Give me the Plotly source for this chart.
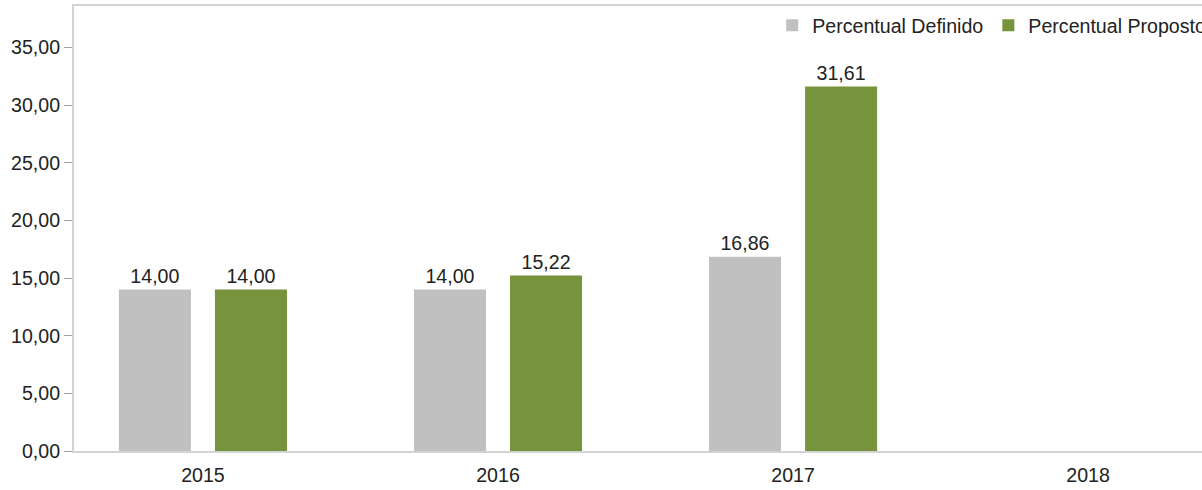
import plotly.graph_objects as go

categories = ["2015", "2016", "2017", "2018"]
percentual_definido = [14.00, 14.00, 16.86, None]
percentual_proposto = [14.00, 15.22, 31.61, None]

FONT = "Liberation Sans, Arial, sans-serif"
TXT = "#222222"
FS = 19.6

fig = go.Figure()
fig.add_trace(go.Bar(
    name="Percentual Definido", x=categories, y=percentual_definido,
    marker=dict(color="#C0C0C0", line=dict(width=0)),
    texttemplate="%{y:.2f}", textposition="outside",
    textfont=dict(size=FS, color=TXT, family=FONT), cliponaxis=False,
))
fig.add_trace(go.Bar(
    name="Percentual Proposto", x=categories, y=percentual_proposto,
    marker=dict(color="#77933C", line=dict(width=0)),
    texttemplate="%{y:.2f}", textposition="outside",
    textfont=dict(size=FS, color=TXT, family=FONT), cliponaxis=False,
))

fig.update_layout(
    width=1202, height=490,
    margin=dict(l=74, r=0, t=6, b=39, autoexpand=False),
    paper_bgcolor="white", plot_bgcolor="white",
    font=dict(family=FONT, size=FS, color=TXT),
    separators=",.",
    barmode="group", bargap=0.349, bargroupgap=0.25,
    showlegend=True,
    legend=dict(
        orientation="h", x=0.619, y=1.0, xanchor="left", yanchor="top",
        bgcolor="rgba(0,0,0,0)", font=dict(size=FS, color=TXT, family=FONT),
        traceorder="normal",
    ),
    xaxis=dict(
        type="category", range=[-0.437, 3.386],
        showline=True, linecolor="#D3D3D3", linewidth=2, mirror=True,
        showgrid=False, ticks="", zeroline=False, ticklabelstandoff=5,
        tickfont=dict(size=FS, color=TXT, family=FONT),
    ),
    yaxis=dict(
        range=[0, 38.6], tickvals=[0, 5, 10, 15, 20, 25, 30, 35],
        tickformat=".2f",
        showline=True, linecolor="#D3D3D3", linewidth=2, mirror=True,
        showgrid=False, zeroline=False,
        ticks="outside", ticklen=8, tickcolor="#A0A0A0", tickwidth=1,
        tickfont=dict(size=FS, color=TXT, family=FONT),
    ),
)

fig.write_html(
    "out.html",
    config={"displayModeBar": False},
    post_script="document.body.style.margin='0';document.body.style.overflow='hidden';",
)
